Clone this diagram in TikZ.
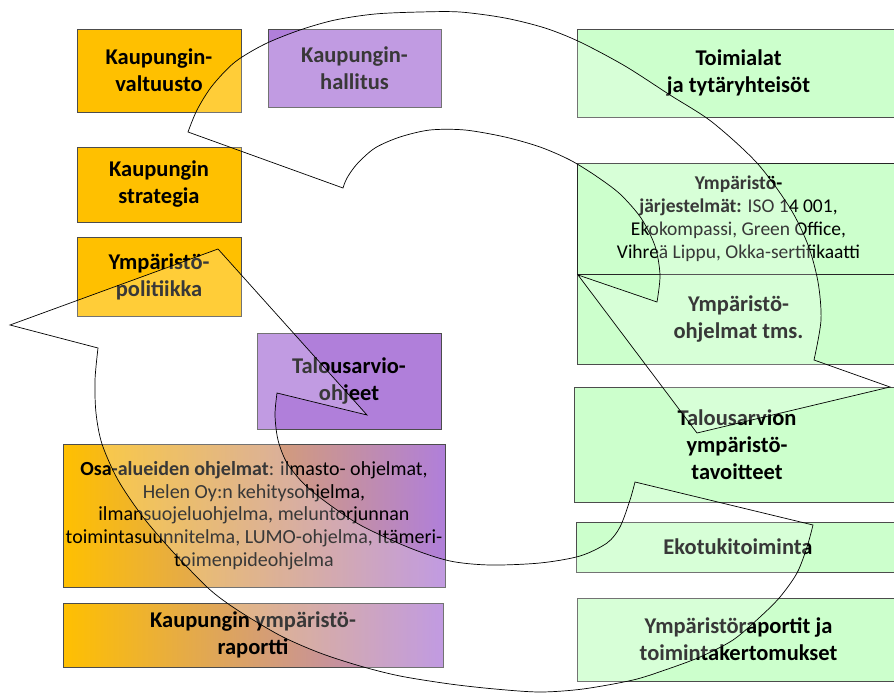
\documentclass[tikz,border=0pt]{standalone}
\usepackage{fontspec}
\setmainfont{Carlito}
\definecolor{orng}{RGB}{255,192,0}
\definecolor{purp}{RGB}{176,127,218}
\definecolor{grn}{RGB}{204,255,204}
\begin{document}
\begin{tikzpicture}[x=1pt,y=-1pt,
  box/.style={draw=black!70, line width=0.6pt, align=center, inner sep=0pt, outer sep=0pt, text=black},
  big/.style={font=\fontsize{22.5}{27}\selectfont\bfseries},
  small/.style={font=\fontsize{20}{22.8}\selectfont},
  smallj/.style={font=\fontsize{19.5}{23}\selectfont},
  ring/.style={draw=black, line width=0.7pt, fill=white, fill opacity=0.22, line join=miter}]
\useasboundingbox (0,0) rectangle (894,693);
\clip (0,0) rectangle (894,693);
\fill[white] (0,0) rectangle (894,693);
% left column
\node[box, big, fill=orng, minimum width=164pt, minimum height=83pt] (valt) at (159,70.5) {Kaupungin-\\valtuusto};
\node[box, big, fill=purp, minimum width=173pt, minimum height=78pt] (hall) at (354.5,68) {Kaupungin-\\hallitus};
\node[box, big, fill=orng, minimum width=164pt, minimum height=75pt] (strat) at (159,184.5) {Kaupungin\\strategia};
\node[box, big, fill=orng, minimum width=164pt, minimum height=79pt] (polit) at (159,276.5) {Ympäristö-\\politiikka};
\node[box, big, fill=purp, minimum width=184pt, minimum height=96pt] (talohj) at (349,381) {Talousarvio-\\ohjeet};
\node[box, small, left color=orng, right color=purp, minimum width=382pt, minimum height=143pt] (osa) at (254,515.5)
  {\textbf{Osa-alueiden ohjelmat}: ilmasto- ohjelmat,\\Helen Oy:n kehitysohjelma,\\ilmansuojeluohjelma, meluntorjunnan\\toimintasuunnitelma, LUMO-ohjelma, Itämeri-\\toimenpideohjelma};
\node[box, big, left color=orng, right color=purp, minimum width=380pt, minimum height=64pt] (rap) at (253,635) {Kaupungin ympäristö-\\raportti};
% right column
\node[box, smallj, fill=grn, draw=black!85, line width=0.9pt, minimum width=323pt, minimum height=111pt] (jarj) at (738.5,218.5)
  {\textbf{Ympäristö-}\\\textbf{järjestelmät:} ISO 14 001,\\Ekokompassi, Green Office,\\Vihreä Lippu, Okka-sertifikaatti};
\node[box, big, fill=grn, minimum width=323pt, minimum height=88pt] (toim) at (738.5,73) {Toimialat\\ja tytäryhteisöt};
\node[box, big, fill=grn, minimum width=323pt, minimum height=90pt] (ohj) at (738.5,319) {Ympäristö-\\ohjelmat tms.};
\draw[black!85, line width=0.9pt] (jarj.south west) -- (jarj.south east);
\node[box, big, fill=grn, minimum width=326pt, minimum height=115pt] (tav) at (737,444.5) {Talousarvion\\ympäristö-\\tavoitteet};
\node[box, big, fill=grn, minimum width=324pt, minimum height=50pt] (eko) at (738,547) {Ekotukitoiminta};
\node[box, big, fill=grn, minimum width=323pt, minimum height=83pt] (yrap) at (738.5,639.5) {Ympäristöraportit ja\\toimintakertomukset};
% circular arrows (overlay)
\draw[ring] plot[smooth] coordinates {(188,132) (197,110) (212,86) (235,62) (265,44) (300,30) (335,20) (375,14) (420,12) (460,12) (505,18) (545,28) (580,42) (625,66) (670,95) (712,122) (757,163) (790,208) (808,245) (818,282) (821,320) (814,360)}
  -- (890,387) -- (697,433) -- (578,275)
  -- plot[smooth] coordinates {(657,302) (660,275) (655,246) (641,218) (620,194) (596,176) (570,160) (540,147) (505,137) (465,130) (430,130) (400,137) (375,148) (357,164) (347,178) (343,188)}
  -- cycle;
\draw[ring] plot[smooth] coordinates {(813,525) (807,547) (797,573) (780,597) (760,617) (733,640) (700,657) (665,670) (633,680) (583,689) (540,692) (495,689) (450,684) (400,676) (360,666) (320,653) (283,637) (250,618) (227,603) (207,587) (173,552) (143,517) (118,480) (102,444) (96,413) (95,380) (98,348)}
  -- (10,325) -- (218,249) -- (367,415)
  -- plot[smooth] coordinates {(277,393) (275,415) (278,440) (287,463) (305,485) (330,505) (362,526) (410,548) (450,561) (490,565) (540,563) (580,556) (607,543) (620,527) (630,500) (635,482)}
  -- cycle;
\end{tikzpicture}
\end{document}
